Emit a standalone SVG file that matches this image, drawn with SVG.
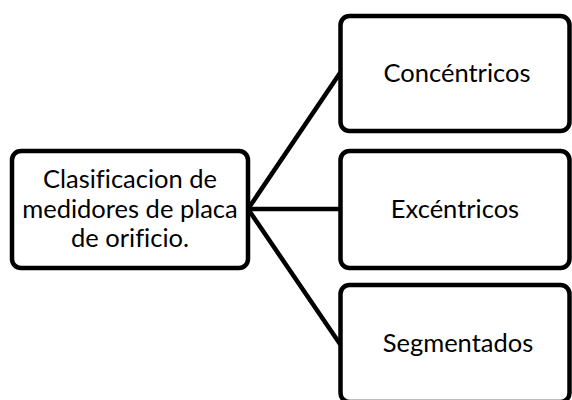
<svg xmlns="http://www.w3.org/2000/svg" width="572" height="400" viewBox="0 0 572 400">
<style>
.box{fill:#ffffff;stroke:#000000;stroke-width:4.5}
.lbl{font-family:Lato,"Noto Sans","Liberation Sans",sans-serif;font-size:25.5px;fill:#000000;text-anchor:middle;font-variant-ligatures:none}
.con{stroke:#000000;stroke-width:4.5;fill:none;stroke-linecap:round}
</style>
<rect width="572" height="400" fill="#ffffff"/>
<g id="connectors">
<line class="con" x1="248" y1="209" x2="340" y2="73"/>
<line class="con" x1="248" y1="209" x2="340" y2="209"/>
<line class="con" x1="248" y1="209" x2="340" y2="344"/>
</g>
<g id="node-root">
<rect class="box" x="12" y="151" width="236" height="117" rx="9"/>
<text class="lbl" x="130" y="188">Clasificacion de</text>
<text class="lbl" x="130" y="218">medidores de placa</text>
<text class="lbl" x="130" y="247">de orificio.</text>
</g>
<g id="node-concentricos">
<rect class="box" x="340.5" y="16" width="229" height="115" rx="9"/>
<text class="lbl" x="457" y="82">Concéntricos</text>
</g>
<g id="node-excentricos">
<rect class="box" x="340.5" y="151" width="229" height="117" rx="9"/>
<text class="lbl" x="455" y="218">Excéntricos</text>
</g>
<g id="node-segmentados">
<rect class="box" x="340.5" y="285" width="229" height="117" rx="9"/>
<text class="lbl" x="458" y="352">Segmentados</text>
</g>
</svg>
